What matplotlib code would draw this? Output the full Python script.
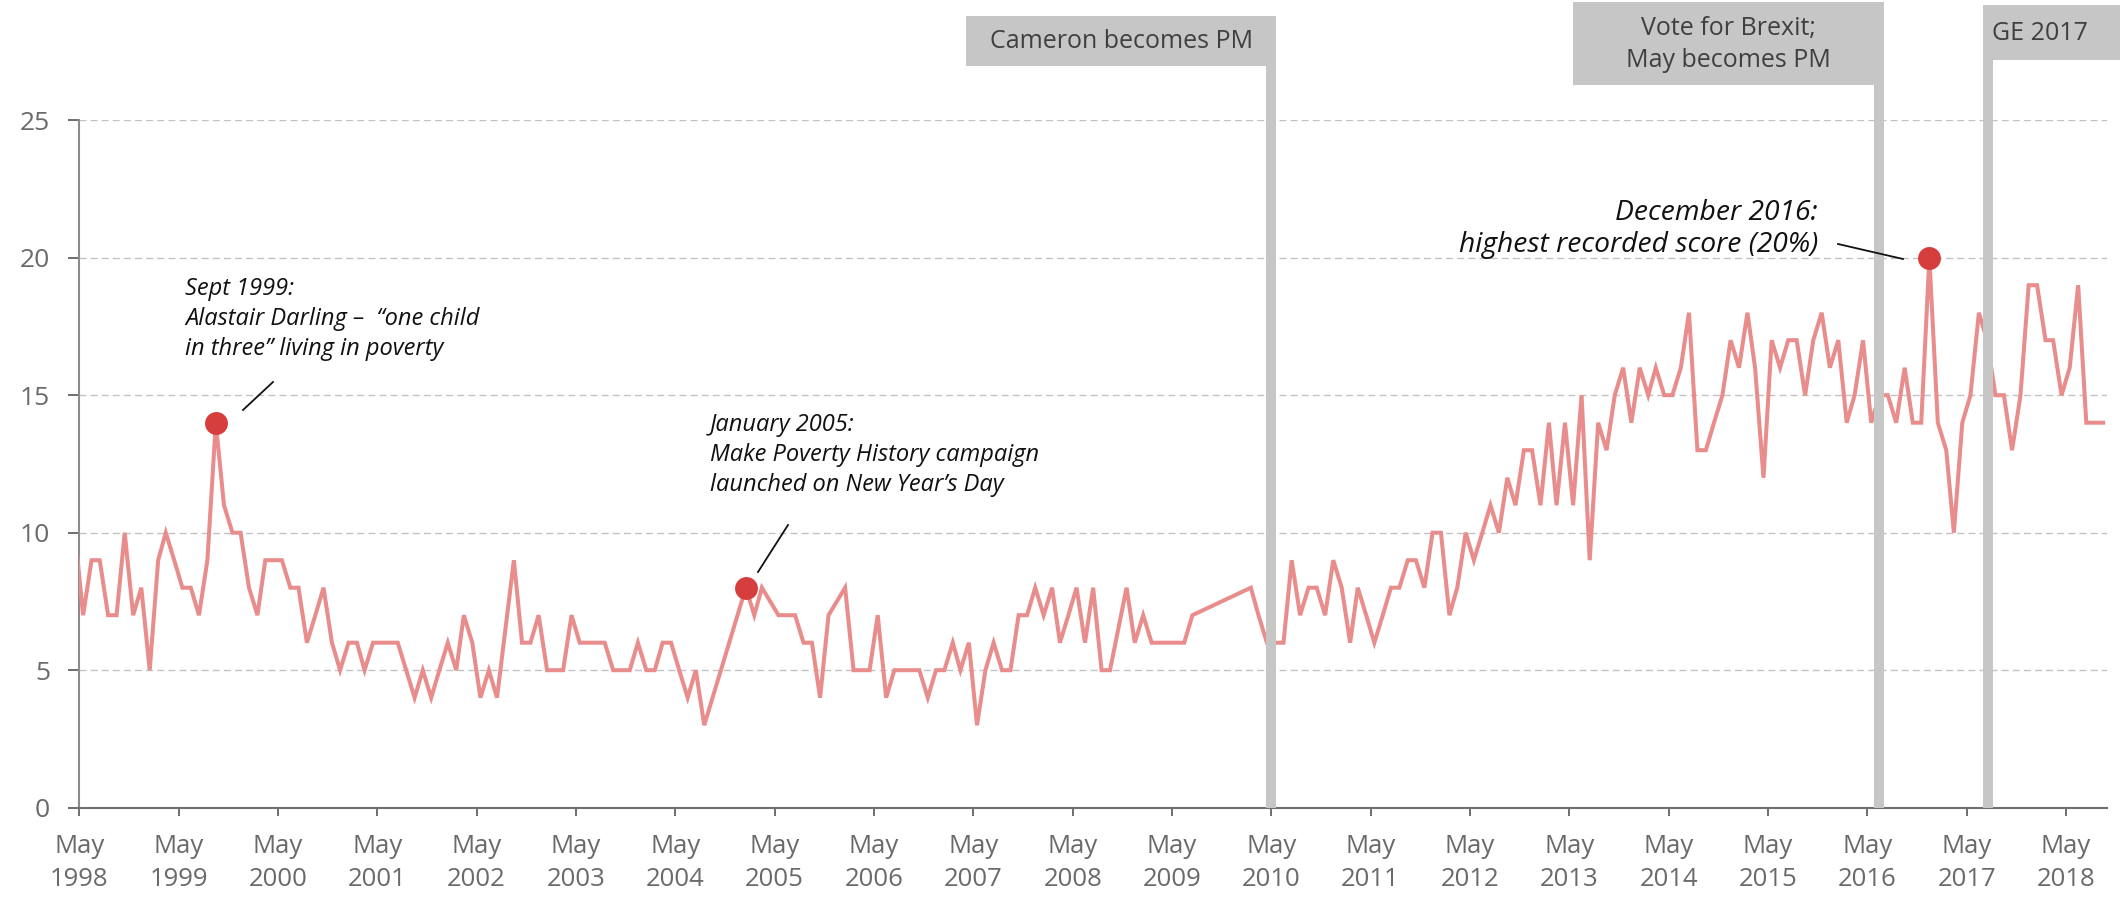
import matplotlib
matplotlib.use("Agg")
import matplotlib.pyplot as plt
import matplotlib.dates as mdates
import pandas as pd
from matplotlib.lines import Line2D
from matplotlib.patches import Rectangle
from matplotlib.transforms import blended_transform_factory

plt.rcParams['font.family'] = ['Open Sans', 'DejaVu Sans']

# ---------------- data (monthly, from April 1998; None = no survey that month) -------------
first_month = "1998-04"
values_1998 = [10, 7, 9, 9, 7, 7, 10, 7, 8]                 # Apr-Dec 1998
values_1999 = [5, 9, 10, 9, 8, 8, 7, 9, 14, 11, 10, 10]
values_2000 = [8, 7, 9, 9, 9, 8, 8, 6, 7, 8, 6, 5]
values_2001 = [6, 6, 5, 6, 6, 6, 6, 5, 4, 5, 4, 5]
values_2002 = [6, 5, 7, 6, 4, 5, 4, None, 9, 6, 6, 7]
values_2003 = [5, 5, 5, 7, 6, 6, 6, 6, 5, 5, 5, 6]
values_2004 = [5, 5, 6, 6, 5, 4, 5, 3, None, None, None, None]
values_2005 = [8, 7, 8, None, 7, 7, 7, 6, 6, 4, 7, None]
values_2006 = [8, 5, 5, 5, 7, 4, 5, 5, 5, 5, 4, 5]
values_2007 = [5, 6, 5, 6, 3, 5, 6, 5, 5, 7, 7, 8]
values_2008 = [7, 8, 6, 7, 8, 6, 8, 5, 5, None, 8, 6]
values_2009 = [7, 6, 6, 6, 6, 6, 7, None, None, None, None, None]
values_2010 = [None, 8, 7, 6, 6, 6, 9, 7, 8, 8, 7, 9]
values_2011 = [8, 6, 8, 7, 6, 7, 8, 8, 9, 9, 8, 10]
values_2012 = [10, 7, 8, 10, 9, 10, 11, 10, 12, 11, 13, 13]
values_2013 = [11, 14, 11, 14, 11, 15, 9, 14, 13, 15, 16, 14]
values_2014 = [16, 15, 16, 15, 15, 16, 18, 13, 13, 14, 15, 17]
values_2015 = [16, 18, 16, 12, 17, 16, 17, 17, 15, 17, 18, 16]
values_2016 = [17, 14, 15, 17, 14, 15, 15, 14, 16, 14, 14, 20]
values_2017 = [14, 13, 10, 14, 15, 18, 17, 15, 15, 13, 15, 19]
values_2018 = [19, 17, 17, 15, 16, 19, 14, 14, 14]          # Jan-Sep 2018

highlight_months = ["1999-09", "2005-01", "2016-12"]
highlight_texts = [
    "Sept 1999:\nAlastair Darling \u2013  \u201cone child\nin three\u201d living in poverty",
    "January 2005:\nMake Poverty History campaign\nlaunched on New Year\u2019s Day",
    "December 2016:\nhighest recorded score (20%)",
]

event_dates = ["2010-05-01", "2016-06-11", "2017-07-17"]
event_labels = ["Cameron becomes PM", "Vote for Brexit;\nMay becomes PM", "GE 2017"]

y_ticks = [0, 5, 10, 15, 20, 25]
x_start, x_end = "1998-05-01", "2018-09-28"

# ---------------- build series ----------------
all_values = (values_1998 + values_1999 + values_2000 + values_2001 + values_2002 +
              values_2003 + values_2004 + values_2005 + values_2006 + values_2007 +
              values_2008 + values_2009 + values_2010 + values_2011 + values_2012 +
              values_2013 + values_2014 + values_2015 + values_2016 + values_2017 +
              values_2018)
months = pd.period_range(first_month, periods=len(all_values), freq="M")
series = pd.Series(all_values, index=months, dtype="float").dropna()
dates = series.index.to_timestamp() + pd.Timedelta(days=14)

# ---------------- figure ----------------
W, H, DPI = 2120, 897, 100
fig = plt.figure(figsize=(W / DPI, H / DPI), dpi=DPI)
L, R, T, B = 79.3, 2106.7, 120.2, 807.7
ax = fig.add_axes([L / W, 1 - B / H, (R - L) / W, (B - T) / H])

line_col = "#e88c8c"
dot_col = "#d63e3e"
grey_bar = "#c6c6c6"
tick_col = "#6a6a6a"

ax.plot(dates, series.values, color=line_col, lw=2.9, solid_joinstyle="miter", zorder=3)

hl_idx = pd.PeriodIndex(highlight_months, freq="M")
hl_dates = hl_idx.to_timestamp() + pd.Timedelta(days=14)
ax.plot(hl_dates, series.loc[hl_idx].values, "o", ms=16.5, color=dot_col,
        markeredgewidth=0, zorder=5)

ax.set_xlim(pd.Timestamp(x_start), pd.Timestamp(x_end))
ax.set_ylim(0, 25)
ax.set_yticks(y_ticks)
ax.xaxis.set_major_locator(mdates.YearLocator(1, month=5, day=1))
ax.xaxis.set_major_formatter(mdates.DateFormatter("%b\n%Y"))

for s in ["top", "right"]:
    ax.spines[s].set_visible(False)
ax.spines["left"].set_color("#8c8c8c")
ax.spines["left"].set_linewidth(1.5)
ax.spines["bottom"].set_color("#707070")
ax.spines["bottom"].set_linewidth(1.5)

ax.tick_params(axis="x", direction="out", length=6, width=1.2, color="#555555",
               labelsize=18.5, labelcolor=tick_col, pad=13)
ax.tick_params(axis="y", direction="out", length=8, width=1.2, color="#555555",
               labelsize=19, labelcolor=tick_col, pad=13)
for lab in ax.get_xticklabels():
    lab.set_linespacing(1.4)

ax.yaxis.grid(True, color="#c2c2c2", lw=1.0, linestyle=(0, (5, 3)))
ax.set_axisbelow(True)

# ---------------- event bars and boxes ----------------
fig.canvas.draw()
blend = blended_transform_factory(ax.transData, fig.transFigure)
box_specs = [  # (top_px, bottom_px, side, width_px, text-centre offset)
    (16, 66, "left", 310, None),
    (2, 85, "left", 311, None),
    (5, 60, "right", None, 57),
]
for d, lab, (top, bot, side, bw, off) in zip(event_dates, event_labels, box_specs):
    xnum = mdates.date2num(pd.Timestamp(d))
    fig.add_artist(Line2D([xnum, xnum], [1 - B / H, 1 - bot / H], transform=blend,
                          color=grey_bar, lw=7.2, solid_capstyle="butt", zorder=1))
    xpx = ax.transData.transform((xnum, 0))[0]
    if side == "left":
        x1 = xpx + 5
        x0 = x1 - bw
        cx = (x0 + x1) / 2
    else:
        x0 = xpx - 5
        x1 = W
        cx = x0 + off
    fig.add_artist(Rectangle((x0 / W, 1 - bot / H), (x1 - x0) / W, (bot - top) / H,
                             transform=fig.transFigure, facecolor=grey_bar,
                             edgecolor="none", zorder=1))
    fig.text(cx / W, 1 - ((top + bot) / 2 + 1) / H, lab, ha="center", va="center",
             fontsize=18, color="#3f3f3f", linespacing=1.4, zorder=2)

# ---------------- annotations ----------------
def fx(x):
    return x / W

def fy(y):
    return 1 - y / H

ann_pos = [  # text anchor (px), alignment, size, spacing, leader line start/end (px)
    ((185, 319), "left", 17, 1.32, (243, 410), (273, 382)),
    ((710, 455), "left", 17, 1.32, (758, 572), (788, 525)),
    ((1818, 229), "right", 20.3, 1.2, (1838, 244), (1903, 259)),
]
for txt, ((tx, ty), ha, fs, ls, p0, p1) in zip(highlight_texts, ann_pos):
    fig.text(fx(tx), fy(ty), txt, ha=ha, va="center", multialignment=ha,
             fontsize=fs, style="italic", color="#111111", linespacing=ls)
    fig.add_artist(Line2D([fx(p0[0]), fx(p1[0])], [fy(p0[1]), fy(p1[1])],
                          transform=fig.transFigure, color="#111111", lw=1.3))

fig.savefig("out.png", dpi=DPI)
